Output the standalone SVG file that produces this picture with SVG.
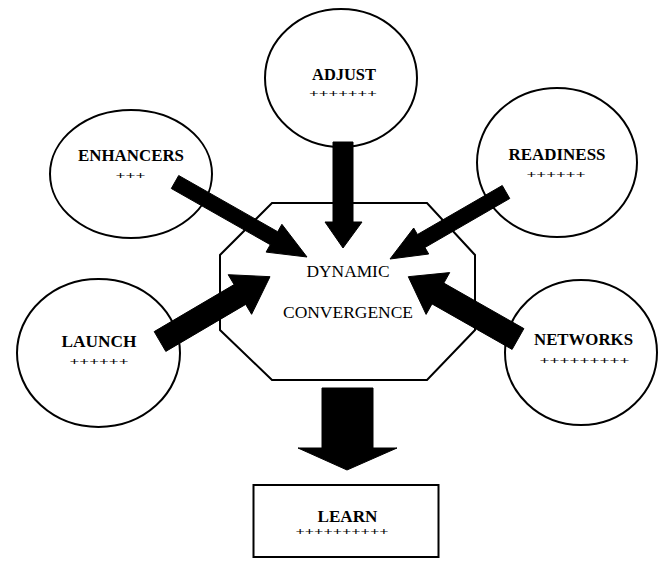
<svg xmlns="http://www.w3.org/2000/svg" width="658" height="567" viewBox="0 0 658 567">
<style>
.node{fill:#fff;stroke:#000;stroke-width:2}
.lbl{font-family:"Liberation Serif","Times New Roman",serif;font-size:17px;font-weight:bold;fill:#000;text-anchor:middle}
.ctr{font-family:"Liberation Serif","Times New Roman",serif;font-size:17.5px;fill:#000;text-anchor:middle}
.plus{font-family:"Liberation Serif","Times New Roman",serif;font-size:18px;font-weight:bold;fill:#000;text-anchor:middle}
.arr{fill:#000;stroke:#000;stroke-width:1;stroke-linejoin:miter}
</style>
<rect width="658" height="567" fill="#fff"/>
<g id="adjust">
<ellipse class="node" cx="341" cy="78" rx="76" ry="69"/>
<text class="lbl" x="344" y="80" textLength="64" lengthAdjust="spacingAndGlyphs">ADJUST</text>
<text class="plus" transform="translate(343,96.8) scale(1,0.55)" textLength="68" lengthAdjust="spacingAndGlyphs">+++++++</text>
</g>
<g id="enhancers">
<ellipse class="node" cx="131" cy="174" rx="81" ry="64"/>
<text class="lbl" x="131" y="160.5" textLength="106" lengthAdjust="spacingAndGlyphs">ENHANCERS</text>
<text class="plus" transform="translate(130.5,179.2) scale(1,0.55)" textLength="30" lengthAdjust="spacingAndGlyphs">+++</text>
</g>
<g id="readiness">
<ellipse class="node" cx="557" cy="162.5" rx="80" ry="74.5"/>
<text class="lbl" x="557" y="160" textLength="97" lengthAdjust="spacingAndGlyphs">READINESS</text>
<text class="plus" transform="translate(556,177.5) scale(1,0.55)" textLength="59" lengthAdjust="spacingAndGlyphs">++++++</text>
</g>
<g id="launch">
<ellipse class="node" cx="98.5" cy="353" rx="81.5" ry="74"/>
<text class="lbl" x="99" y="346.5" textLength="75" lengthAdjust="spacingAndGlyphs">LAUNCH</text>
<text class="plus" transform="translate(99,365.2) scale(1,0.55)" textLength="59" lengthAdjust="spacingAndGlyphs">++++++</text>
</g>
<g id="networks">
<ellipse class="node" cx="581" cy="352.5" rx="76" ry="72.5"/>
<text class="lbl" x="583.5" y="345" textLength="99" lengthAdjust="spacingAndGlyphs">NETWORKS</text>
<text class="plus" transform="translate(584.5,363.5) scale(1,0.55)" textLength="90" lengthAdjust="spacingAndGlyphs">+++++++++</text>
</g>
<g id="dynamic-convergence">
<polygon class="node" points="272,203 427,203 475,255 475,330 427,380 272,380 220,330 220,255"/>
<text class="ctr" x="348" y="276.5" textLength="83" lengthAdjust="spacingAndGlyphs">DYNAMIC</text>
<text class="ctr" x="348" y="318" textLength="130" lengthAdjust="spacingAndGlyphs">CONVERGENCE</text>
</g>
<g id="learn">
<rect class="node" x="253.5" y="485" width="185" height="72"/>
<text class="lbl" x="347.5" y="521.5" textLength="60" lengthAdjust="spacingAndGlyphs">LEARN</text>
<text class="plus" transform="translate(342,535.2) scale(1,0.55)" textLength="93" lengthAdjust="spacingAndGlyphs">++++++++++</text>
</g>
<g id="connectors">
<polygon class="arr" points="333,142 353,142 353,222 362,222 343,248 325,222 333,222"/>
<polygon class="arr" points="171.3,188.5 178.7,175.5 277.7,231.7 281.9,224.3 307,257 266.1,252.1 270.3,244.7"/>
<polygon class="arr" points="509.75,198.5 502.25,185.5 417.45,234.5 413.7,228 390,259 428.7,254 424.95,247.5"/>
<polygon class="arr" points="165.8,351.4 154.2,331.6 234.1,284.6 228.2,274.7 270,276.7 251.6,314.3 245.7,304.4"/>
<polygon class="arr" points="523.9,328.6 512.1,349.4 432,303.9 426.1,314.4 408.3,276.7 449.7,272.6 443.8,283.1"/>
<polygon class="arr" points="322,388 373,388 373,448 397,448 347,470 298,448 322,448"/>
</g>
</svg>
